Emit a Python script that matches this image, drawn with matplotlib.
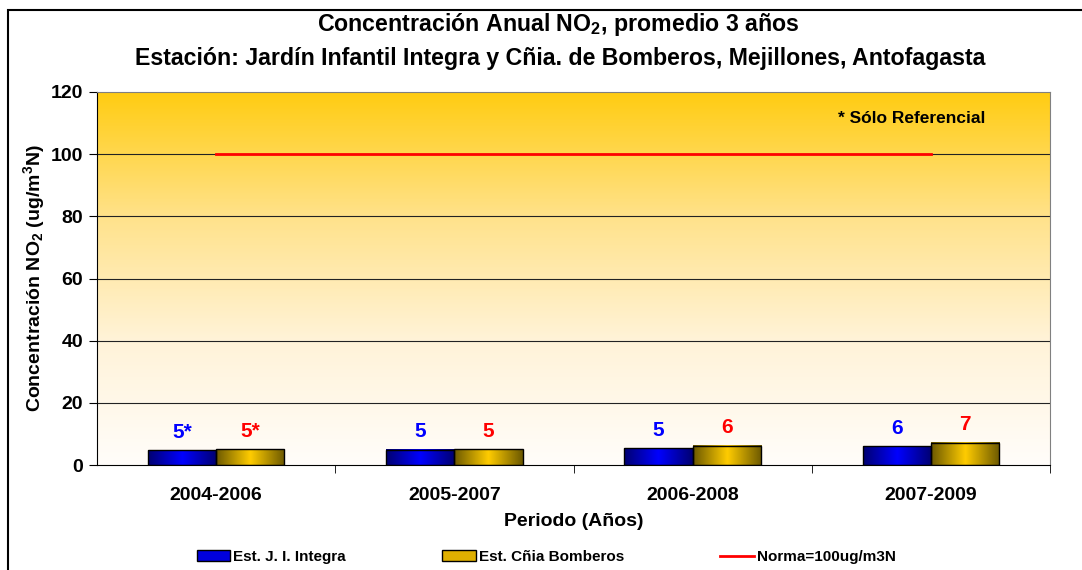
import numpy as np
import matplotlib
matplotlib.use("Agg")
import matplotlib.pyplot as plt
from matplotlib.colors import LinearSegmentedColormap
from matplotlib.patches import Rectangle, Patch
from matplotlib.lines import Line2D

plt.rcParams['font.family'] = ['Liberation Sans', 'DejaVu Sans']
plt.rcParams['font.weight'] = 'bold'
plt.rcParams['mathtext.fontset'] = 'custom'
plt.rcParams['mathtext.rm'] = 'Liberation Sans:bold'
plt.rcParams['mathtext.it'] = 'Liberation Sans:bold'
plt.rcParams['mathtext.bf'] = 'Liberation Sans:bold'

# data
periodos = ["2004-2006", "2005-2007", "2006-2008", "2007-2009"]
integra = [4.8, 4.9, 5.4, 6.1]
bomberos = [5.0, 5.0, 6.2, 7.2]
integra_lbl = ["5*", "5", "5", "6"]
bomberos_lbl = ["5*", "5", "6", "7"]
norma = [100, 100, 100, 100]

fig = plt.figure(figsize=(10.82, 5.70), dpi=100)
ax = fig.add_axes([97/1082, 1-465/570, 953/1082, 373/570])

x = np.arange(len(periodos))
w = 0.286

ax.set_xlim(-0.5, 3.5)
ax.set_ylim(0, 120)

# background gradient, gold on top -> white at bottom
bg = LinearSegmentedColormap.from_list("bg", ["#fffdfa", "#fff3d8", "#ffe28a", "#ffcc11"])
grad = np.linspace(0, 1, 256).reshape(-1, 1)
ax.imshow(grad, extent=(-0.5, 3.5, 0, 120), origin="lower", aspect="auto",
          cmap=bg, zorder=0)

for yy in [20, 40, 60, 80, 100]:
    ax.axhline(yy, color="#222222", lw=0.8, zorder=1)

cm_blue = LinearSegmentedColormap.from_list("b", ["#000070", "#0000ff", "#000070"])
cm_gold = LinearSegmentedColormap.from_list("g", ["#6b5800", "#ffcc00", "#6b5800"])
hgrad = np.linspace(0, 1, 256).reshape(1, -1)

b1 = ax.bar(x - w/2, integra, w, facecolor="none", edgecolor="black", lw=1, zorder=3)
b2 = ax.bar(x + w/2, bomberos, w, facecolor="none", edgecolor="black", lw=1, zorder=3)
for bars, cm in [(b1, cm_blue), (b2, cm_gold)]:
    for r in bars:
        x0, y0 = r.get_x(), r.get_y()
        ax.imshow(hgrad, extent=(x0, x0 + r.get_width(), y0, y0 + r.get_height()),
                  aspect="auto", cmap=cm, zorder=2)
ax.set_xlim(-0.5, 3.5)
ax.set_ylim(0, 120)

for i in range(len(x)):
    ax.annotate(integra_lbl[i], (x[i] - w/2, integra[i]), xytext=(0, 9),
                textcoords="offset points", ha="center", va="baseline",
                color="#0000ff", fontsize=15, fontweight="bold")
    ax.annotate(bomberos_lbl[i], (x[i] + w/2, bomberos[i]), xytext=(0, 9),
                textcoords="offset points", ha="center", va="baseline",
                color="#ff0000", fontsize=15, fontweight="bold")

ax.plot(x, norma, color="red", lw=2, zorder=4)

ax.text(0.855, 0.928, "* Sólo Referencial", transform=ax.transAxes,
        ha="center", va="center", fontsize=12.5, fontweight="bold")

# axes styling
ax.set_xticks(x)
ax.set_xticklabels(periodos, fontsize=14, fontweight="bold")
ax.set_xticks([0.5, 1.5, 2.5, 3.5], minor=True)
ax.tick_params(axis="x", which="major", length=0, pad=16)
ax.tick_params(axis="x", which="minor", length=6, color="black")
ax.set_yticks(range(0, 121, 20))
ax.tick_params(axis="y", length=6, labelsize=14, pad=4)
for t in ax.get_yticklabels():
    t.set_fontweight("bold")

ax.spines["top"].set_color("#808080")
ax.spines["right"].set_color("#808080")
ax.spines["left"].set_color("black")
ax.spines["bottom"].set_color("black")

ax.set_xlabel("Periodo (Años)", fontsize=14, fontweight="bold", labelpad=6)
ax.set_ylabel("Concentración NO$_2$ (ug/m$^3$N)", fontsize=14, fontweight="bold", labelpad=3)

fig.text(0.516, 1-25/570, "Concentración Anual NO$_2$, promedio 3 años",
         ha="center", va="center", fontsize=16.7, fontweight="bold")
fig.text(0.518, 1-58/570, "Estación: Jardín Infantil Integra y Cñia. de Bomberos, Mejillones, Antofagasta",
         ha="center", va="center", fontsize=16.7, fontweight="bold")

handles = [Patch(facecolor="#0000dd", edgecolor="black", lw=1),
           Patch(facecolor="#e0b000", edgecolor="black", lw=1),
           Line2D([0], [0], color="red", lw=2)]
labels = ["Est. J. I. Integra", "Est. Cñia Bomberos", "Norma=100ug/m3N"]
fig.legend(handles, labels, loc="center", bbox_to_anchor=(0.505, 1-557/570), ncol=3,
           frameon=False, columnspacing=6.3, handlelength=2.2,
           handletextpad=0.2, handleheight=0.7, prop={"weight": "bold", "size": 11})

# outer frame
fig.add_artist(Rectangle((8/1082, -0.1), 1.2, 1-10/570 + 0.1, transform=fig.transFigure,
                         fill=False, edgecolor="black", lw=1.5))

fig.savefig("out.png", dpi=100)
